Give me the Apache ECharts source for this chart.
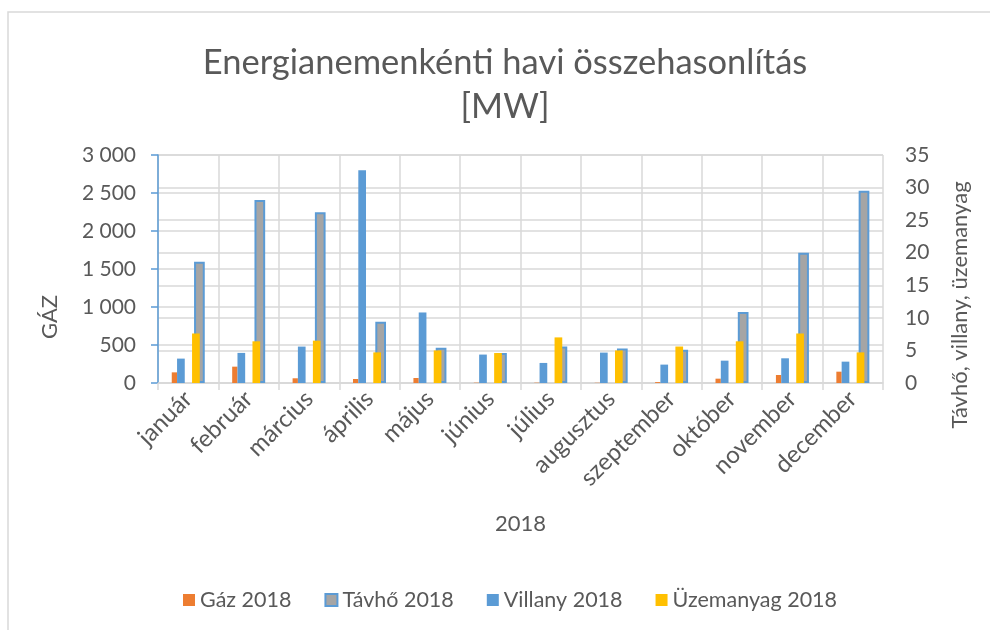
<!DOCTYPE html>
<html>
<head>
<meta charset="utf-8">
<title>Energianemenkénti havi összehasonlítás</title>
<script src="https://cdn.jsdelivr.net/npm/echarts@6/dist/echarts.min.js"></script>
<style>
  html, body { margin: 0; padding: 0; background: #fff; }
  #chart { width: 990px; height: 630px; }
</style>
</head>
<body>
<div id="chart"></div>
<script>
// months of 2018
const months = ['január', 'február', 'március', 'április', 'május', 'június', 'július', 'augusztus', 'szeptember', 'október', 'november', 'december']
// left axis (GÁZ)
const gaz2018 = [140, 215, 62, 53, 66, 4, 4, 3, 12, 57, 105, 149]
const villany2018 = [321, 396, 479, 2800, 928, 374, 264, 400, 242, 294, 325, 281]
// right axis
const tavho2018 = [18.6, 28.1, 26.2, 9.4, 5.4, 4.6, 5.6, 5.3, 5.1, 10.9, 20.0, 29.5]
const uzemanyag2018 = [7.6, 6.4, 6.5, 4.7, 5.0, 4.6, 7.0, 5.0, 5.6, 6.4, 7.6, 4.7]

const FONT = 'Lato'
const TXT = '#595959'
const GRID = '#d9d9d9'

function thousands(v) {
  if (v < 1000) return String(v)
  return Math.floor(v / 1000) + ' ' + String(v % 1000).padStart(3, '0')
}

const chart = echarts.init(document.getElementById('chart'), null, { renderer: 'canvas' })

// hidden category axes so each bar group sits at its own spot in the month
const hiddenX = {
  type: 'category',
  data: months,
  show: false,
  gridIndex: 0
}

chart.setOption({
  animation: false,
  backgroundColor: '#fff',
  textStyle: { fontFamily: FONT },
  graphic: [
    {
      type: 'rect',
      shape: { x: 8, y: 12, width: 1000, height: 700 },
      style: { fill: 'none', stroke: GRID, lineWidth: 1.5 },
      silent: true
    }
  ],
  title: {
    text: 'Energianemenkénti havi összehasonlítás\n[MW]',
    left: 500,
    textAlign: 'center',
    top: 36,
    textStyle: {
      fontFamily: FONT,
      fontWeight: 'normal',
      fontSize: 34.5,
      lineHeight: 44,
      color: TXT
    }
  },
  legend: {
    data: ['Gáz 2018', 'Távhő 2018', 'Villany 2018', 'Üzemanyag 2018'],
    left: 178,
    top: 584,
    itemWidth: 12,
    itemHeight: 12,
    itemGap: 33,
    icon: 'rect',
    textStyle: { fontFamily: FONT, fontSize: 21.5, color: TXT }
  },
  grid: {
    left: 158,
    right: 107,
    top: 155,
    bottom: 247,
    containLabel: false
  },
  xAxis: [
    {
      type: 'category',
      data: months,
      name: '2018',
      nameLocation: 'middle',
      nameGap: 130,
      nameTextStyle: { fontFamily: FONT, fontSize: 22, color: TXT },
      axisLine: { lineStyle: { color: GRID, width: 1.5 } },
      axisTick: { show: true, length: 7, lineStyle: { color: GRID, width: 1.5 } },
      splitLine: { show: true, lineStyle: { color: GRID, width: 1.5 } },
      axisLabel: {
        rotate: 45,
        margin: 12,
        interval: 0,
        fontFamily: FONT,
        fontSize: 24,
        color: TXT
      }
    },
    hiddenX,
    hiddenX
  ],
  yAxis: [
    {
      type: 'value',
      position: 'left',
      min: 0,
      max: 3000,
      interval: 500,
      name: 'GÁZ',
      nameLocation: 'middle',
      nameRotate: 90,
      nameGap: 97,
      nameTextStyle: { fontFamily: FONT, fontSize: 22, color: TXT, padding: [0, 96, 0, 0] },
      axisLine: { show: true, lineStyle: { color: '#5b9bd5', width: 1.5 } },
      axisTick: { show: true, length: 7, lineStyle: { color: '#5b9bd5', width: 1.5 } },
      splitLine: { show: true, lineStyle: { color: GRID, width: 1.5 } },
      axisLabel: {
        margin: 22,
        fontFamily: FONT,
        fontSize: 21,
        color: TXT,
        formatter: thousands
      }
    },
    {
      type: 'value',
      position: 'right',
      min: 0,
      max: 35,
      interval: 5,
      name: 'Távhő, villany, üzemanyag',
      nameLocation: 'middle',
      nameRotate: 90,
      nameGap: 66,
      nameTextStyle: { fontFamily: FONT, fontSize: 22, color: TXT, padding: [0, 72, 0, 0] },
      axisLine: { show: false },
      axisTick: { show: false },
      splitLine: { show: true, lineStyle: { color: GRID, width: 1.5 } },
      axisLabel: {
        margin: 22,
        fontFamily: FONT,
        fontSize: 21,
        color: TXT
      }
    }
  ],
  series: [
    // group on the left axis: Gáz + Villany, then an empty spacer
    {
      name: 'Gáz 2018',
      type: 'bar',
      xAxisIndex: 0,
      yAxisIndex: 0,
      barWidth: 5.3,
      barGap: '0%',
      itemStyle: { color: '#ed7d31' },
      data: gaz2018
    },
    {
      name: 'Villany 2018',
      type: 'bar',
      xAxisIndex: 0,
      yAxisIndex: 0,
      barWidth: 7.7,
      barGap: '0%',
      itemStyle: { color: '#5b9bd5' },
      data: villany2018
    },
    {
      name: 'spacerA',
      type: 'bar',
      xAxisIndex: 0,
      yAxisIndex: 0,
      barWidth: 19.9,
      barGap: '0%',
      data: []
    },
    // Távhő on its own hidden axis
    {
      name: 'spacerB',
      type: 'bar',
      xAxisIndex: 1,
      yAxisIndex: 1,
      barWidth: 22.4,
      barGap: '0%',
      data: []
    },
    {
      name: 'Távhő 2018',
      type: 'bar',
      xAxisIndex: 1,
      yAxisIndex: 1,
      barWidth: 10.7,
      barGap: '0%',
      itemStyle: { color: '#a5a5a5', borderColor: '#5b9bd5', borderWidth: 2 },
      data: tavho2018
    },
    // Üzemanyag overlaps the left part of Távhő
    {
      name: 'spacerC',
      type: 'bar',
      xAxisIndex: 2,
      yAxisIndex: 1,
      barWidth: 15.4,
      barGap: '0%',
      data: []
    },
    {
      name: 'Üzemanyag 2018',
      type: 'bar',
      xAxisIndex: 2,
      yAxisIndex: 1,
      barWidth: 7.7,
      barGap: '0%',
      z: 3,
      itemStyle: { color: '#ffc000' },
      data: uzemanyag2018
    }
  ]
})
</script>
</body>
</html>
